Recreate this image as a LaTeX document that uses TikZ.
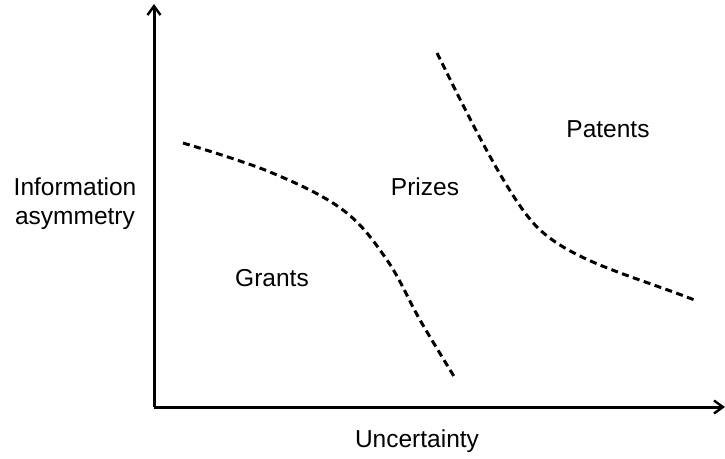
\documentclass[tikz,border=0pt]{standalone}
\usepackage{fontspec}
\setmainfont{Liberation Sans}
\usetikzlibrary{arrows.meta}

\def\unit{1pt}

\tikzset{
  axis/.style={line width=3pt, -{Straight Barb[length=9pt,width=13pt,line width=2.4pt]}},
  boundary/.style={line width=3pt, dash pattern=on 7pt off 4.5pt},
  region/.style={font=\fontsize{24.5}{29}\selectfont, inner sep=0pt},
}

\begin{document}
\begin{tikzpicture}[x=\unit, y=-\unit]
      \useasboundingbox (0,0) rectangle (725,458);
      % axes
      \coordinate (O) at (154,407);
      \coordinate (ytop) at (154,4);
      \coordinate (xend) at (725,407);
      \draw[axis] (O) -- (ytop);
      \draw[axis] (O) -- (xend);
      % axis labels
      \node[region, align=center] (info) at (75,204) {Information\\asymmetry};
      \node[region] (unc) at (417,441) {Uncertainty};
      % boundaries between the regions
      \draw[boundary] plot[smooth, tension=0.6] coordinates
        {(183,143) (270,172) (343,210) (387,260) (420,320) (455,378)};
      \coordinate (b2s) at (437,53);
      \coordinate (b2m) at (537,227);
      \coordinate (b2e) at (697,301);
      \draw[boundary] (b2s) .. controls (462,103) and (507,197) .. (b2m)
        .. controls (572,262) and (637,277) .. (b2e);
      % regions
      \node[region] (grants) at (272,278) {Grants};
      \node[region] (prizes) at (425,187) {Prizes};
      \node[region] (patents) at (608,129) {Patents};
\end{tikzpicture}
\end{document}
